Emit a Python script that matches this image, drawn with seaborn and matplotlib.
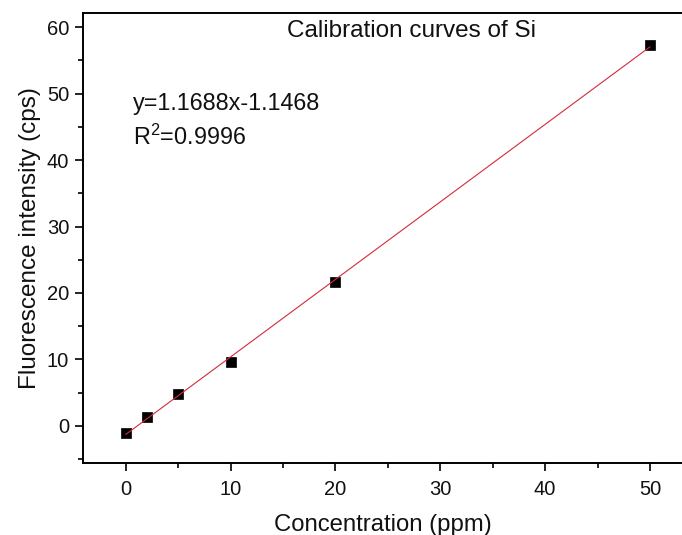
import matplotlib
matplotlib.use("Agg")
import matplotlib.pyplot as plt
import seaborn as sns
import pandas as pd
from matplotlib.ticker import MultipleLocator

# Data
concentration = [0, 2, 5, 10, 20, 50]
intensity = [-1.1, 1.4, 4.8, 9.65, 21.7, 57.3]
title_text = "Calibration curves of Si"
equation_text = "y=1.1688x-1.1468"
r2_text = "R$^{2}$=0.9996"
x_label = "Concentration (ppm)"
y_label = "Fluorescence intensity (cps)"

df = pd.DataFrame({"c": concentration, "i": intensity})

sns.set_theme(style="ticks")
plt.rcParams["font.family"] = ["Liberation Sans", "DejaVu Sans"]
plt.rcParams["mathtext.fontset"] = "custom"
plt.rcParams["mathtext.rm"] = "Liberation Sans"
plt.rcParams["mathtext.it"] = "Liberation Sans:italic"
plt.rcParams["mathtext.default"] = "rm"

fig = plt.figure(figsize=(6.82, 5.35), dpi=100)
ax = fig.add_axes([83 / 682, 1 - 463 / 535, 1 - 83 / 682, (463 - 13) / 535])

sns.scatterplot(data=df, x="c", y="i", marker="s", s=62, color="black",
                edgecolor="black", linewidth=0.5, ax=ax, zorder=2)
sns.regplot(data=df, x="c", y="i", scatter=False, ci=None, ax=ax,
            line_kws={"color": "#d42a3c", "lw": 0.8, "zorder": 3})

ax.set_xlim(-4.08, 53.05)
ax.set_ylim(-5.6, 62.15)
ax.xaxis.set_major_locator(MultipleLocator(10))
ax.xaxis.set_minor_locator(MultipleLocator(5))
ax.yaxis.set_major_locator(MultipleLocator(10))
ax.yaxis.set_minor_locator(MultipleLocator(5))
ax.tick_params(axis="both", which="major", direction="out", length=6, width=1.2,
               labelsize=14.5, color="black", labelcolor="#111111")
ax.tick_params(axis="both", which="minor", direction="out", length=3.6, width=1.2,
               color="black")
ax.tick_params(axis="x", which="major", pad=6)
ax.tick_params(axis="y", which="major", pad=4)

for name, sp in ax.spines.items():
    sp.set_linewidth(1.4)
    sp.set_color("black")
ax.spines["right"].set_visible(False)

ax.set_xlabel(x_label, fontsize=17.2, color="#111111", labelpad=11)
ax.set_ylabel(y_label, fontsize=17.5, color="#111111", labelpad=4)

ax.text(27.25, 59.5, title_text, ha="center", va="center", fontsize=17.5, color="#111111")
ax.text(0.7, 48.6, equation_text, ha="left", va="center", fontsize=16.8, color="#111111")
ax.text(0.7, 43.5, r2_text, ha="left", va="center", fontsize=16.8, color="#111111")

fig.savefig("out.png", dpi=100)
